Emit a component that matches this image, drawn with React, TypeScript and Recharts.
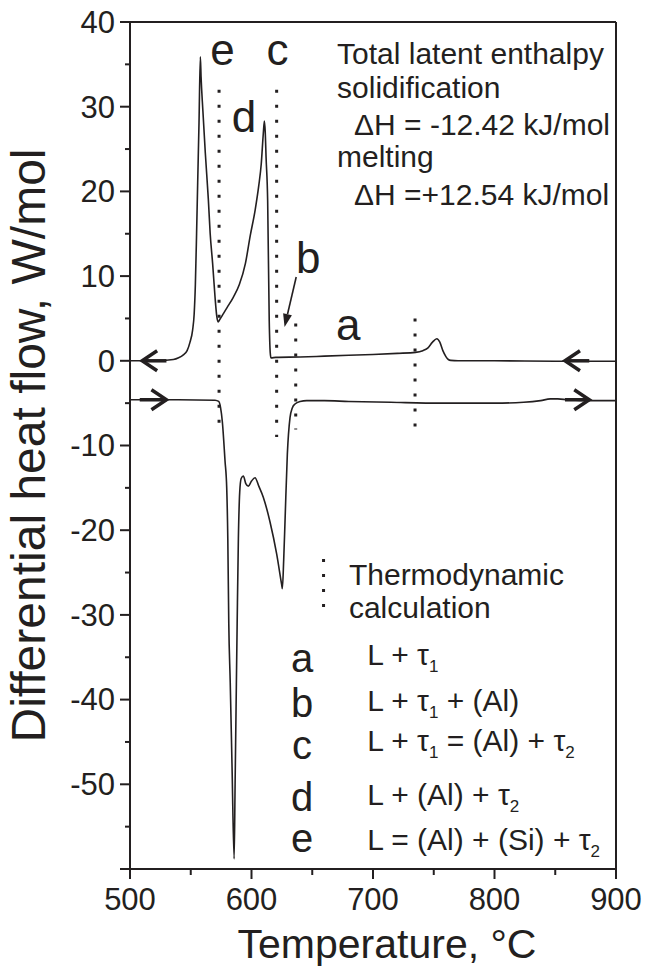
import React from "react";
import { LineChart, Line, XAxis, YAxis, ReferenceLine, ReferenceDot, Label } from "recharts";

const INK = "#231f20";
const FONT = "'Liberation Sans', Arial, Helvetica, sans-serif";

// Cooling run (solidification) — upper trace
const COOL_T = [500, 520, 535.7, 540, 543.9, 547, 549.4, 551.5, 552.8, 553.8, 554.8, 555.7, 556.8, 557.9, 558.5, 560, 562, 564.5, 566, 568, 570, 571.3, 572.5, 574, 577, 580, 585, 590, 595, 599, 603, 606, 608, 609.7, 610.6, 611.3, 612, 613.3, 614.6, 615.4, 616, 620, 640, 660, 680, 700, 720, 735, 741, 745, 749, 752.5, 755, 757.5, 760, 762, 764, 770, 800, 850, 900];
const COOL_V = [0, 0, 0.15, 0.35, 0.7, 1.2, 2.2, 3.6, 5.5, 9, 15, 21, 28.1, 35.9, 33.5, 29.5, 24.5, 19, 15, 11.5, 7.5, 5.4, 4.6, 4.9, 5.6, 6.3, 7.5, 9.0, 11.5, 14.8, 17.8, 20.7, 23.2, 26.8, 28.3, 27, 24, 18.9, 4.7, 1.0, 0.35, 0.4, 0.45, 0.55, 0.65, 0.75, 0.88, 1.0, 1.2, 1.5, 2.2, 2.6, 2.2, 1.2, 0.5, 0.15, 0.05, 0, 0, -0.05, -0.05];

// Heating run (melting) — lower trace
const HEAT_T = [500, 540, 570, 573, 574.5, 576, 578.2, 579.6, 580.5, 581.3, 582.5, 584, 585.7, 586.5, 587.3, 588.2, 589.2, 590.3, 591.5, 593.3, 595.3, 597.4, 600, 602.9, 606, 609.7, 615.2, 620.7, 624.8, 625.4, 626.5, 627.6, 629.5, 631.7, 633.5, 635.8, 640, 645.4, 660, 680, 714.5, 755.7, 800, 824, 838, 846, 852, 860, 880, 900];
const HEAT_V = [-4.6, -4.6, -4.65, -4.8, -5.5, -7.2, -11.8, -15, -21, -31, -38, -48, -58.8, -50, -41, -31, -21, -15.5, -13.9, -13.6, -14.5, -14.8, -14.2, -13.8, -14.8, -16.1, -19.0, -22.8, -26.4, -26.9, -23.5, -18.9, -11, -6.7, -5.6, -5.1, -4.8, -4.7, -4.7, -4.8, -4.9, -5.0, -5.0, -4.9, -4.7, -4.5, -4.5, -4.6, -4.7, -4.7];

const X_TICKS = [500, 550, 600, 650, 700, 750, 800, 850, 900];
const Y_TICKS = [-60, -55, -50, -45, -40, -35, -30, -25, -20, -15, -10, -5, 0, 5, 10, 15, 20, 25, 30, 35, 40];

// thermodynamic calculation markers (dotted verticals)
const CALC_T = [573.3, 620.7, 636.4, 734.6];
const CALC_TOP = [32, 32, 4.4, 5.0];
const CALC_BOTTOM = [-7.7, -9.0, -8.1, -7.8];

const PEAK_LETTERS = ["e", "c", "d", "b", "a"];
const PEAK_T = [576.1, 621.4, 593.9, 646.8, 679.7];
const PEAK_V = [34.9, 34.9, 27.0, 10.4, 2.5];

const PHASE_LETTERS = ["a", "b", "c", "d", "e"];
const PHASE_TEXT = ["L + τ_1", "L + τ_1 + (Al)", "L + τ_1 = (Al) + τ_2", "L + (Al) + τ_2", "L = (Al) + (Si) + τ_2"];
const LETTER_V = [-36.7, -42.0, -47.0, -53.1, -58.0];
const TEXT_V = [-35.9, -41.4, -46.1, -52.4, -57.7];

const ENTHALPY_LINES = ["Total latent enthalpy", "solidification", "ΔH = -12.42 kJ/mol", "melting", "ΔH =+12.54 kJ/mol"];
const ENTHALPY_T = [670.4, 670.4, 684.4, 670.4, 684.4];
const ENTHALPY_V = [35.1, 31.0, 26.7, 22.9, 18.4];

// direction arrows on the traces: shaft from -> to (tip), at level v
const ARROWS = [
  { from: 530, to: 510, v: 0 },
  { from: 508, to: 530, v: -4.6 },
  { from: 878, to: 858, v: 0 },
  { from: 858, to: 878, v: -4.6 },
];

const cool = COOL_T.map((t, i) => ({ t, v: COOL_V[i] }));
const heat = HEAT_T.map((t, i) => ({ t, v: HEAT_V[i] }));

function XTick(props: any) {
  const { x, y, payload } = props;
  const major = payload.value % 100 === 0;
  return (
    <g>
      <line x1={x} x2={x} y1={y} y2={y + (major ? 10 : 6)} stroke={INK} strokeWidth={2} />
      {major && (
        <text x={x} y={y + 41} textAnchor="middle" fontSize={31} fontFamily={FONT} fill={INK}>
          {payload.value}
        </text>
      )}
    </g>
  );
}

function YTick(props: any) {
  const { x, y, payload } = props;
  const v = payload.value;
  const major = v % 10 === 0;
  return (
    <g>
      <line x1={x} x2={x - (major ? 10 : 5)} y1={y} y2={y} stroke={INK} strokeWidth={2} />
      {major && v > -60 && (
        <text x={x - 15} y={y} dy="0.35em" textAnchor="end" fontSize={31} fontFamily={FONT} fill={INK}>
          {v}
        </text>
      )}
    </g>
  );
}

// "τ_1" -> τ with subscript 1
function rich(s: string) {
  const parts = s.split(/_(\d)/);
  return parts.map((p, i) =>
    i % 2 ? (
      <tspan key={i} fontSize={17} dy={7}>{p}</tspan>
    ) : (
      <tspan key={i} dy={i ? -7 : 0}>{p}</tspan>
    )
  );
}

const textShape = (content: React.ReactNode, size: number, anchor: string) => (p: any) => (
  <text x={p.cx} y={p.cy} fontSize={size} fontFamily={FONT} fill={INK} textAnchor={anchor}>
    {content}
  </text>
);

const chevron = (p: any) => {
  const { x1, y1, x2, y2 } = p;
  const dir = x2 > x1 ? 1 : -1;
  return (
    <g>
      <line x1={x1} y1={y1} x2={x2} y2={y2} stroke={INK} strokeWidth={3.5} />
      <polyline
        points={`${x2 - dir * 15},${y2 - 10} ${x2},${y2} ${x2 - dir * 15},${y2 + 10}`}
        fill="none" stroke={INK} strokeWidth={3.5} strokeLinejoin="miter"
      />
    </g>
  );
};

const pointer = (p: any) => {
  const { x1, y1, x2, y2 } = p;
  const len = Math.hypot(x2 - x1, y2 - y1);
  const ux = (x2 - x1) / len, uy = (y2 - y1) / len;
  const bx = x2 - ux * 13, by = y2 - uy * 13;
  return (
    <g>
      <line x1={x1} y1={y1} x2={bx} y2={by} stroke={INK} strokeWidth={1.6} />
      <polygon
        points={`${x2},${y2} ${bx - uy * 4.5},${by + ux * 4.5} ${bx + uy * 4.5},${by - ux * 4.5}`}
        fill={INK}
      />
    </g>
  );
};

export default function App() {
  return (
    <div style={{ position: "absolute", left: 0, top: 0, width: 648, height: 969, background: "#fff" }}>
      <LineChart width={648} height={969} margin={{ top: 22, right: 32, bottom: 0, left: 0 }}>
        <XAxis
          type="number" dataKey="t" domain={[500, 900]} ticks={X_TICKS} interval={0}
          tickSize={0} tickMargin={0} tickLine={false} tick={(p: any) => <XTick {...p} />}
          axisLine={{ stroke: INK, strokeWidth: 2 }} height={100} allowDataOverflow
        >
          <Label
            value="Temperature, °C" position="insideBottom" offset={11} dx={14}
            style={{ fontSize: 41, fontFamily: FONT, fill: INK }}
          />
        </XAxis>
        <YAxis
          type="number" domain={[-60, 40]} ticks={Y_TICKS} interval={0}
          tickSize={0} tickMargin={0} tickLine={false} tick={(p: any) => <YTick {...p} />}
          axisLine={{ stroke: INK, strokeWidth: 2 }} width={130} allowDataOverflow
        >
          <Label
            value="Differential heat flow, W/mol" angle={-90} position="insideLeft" offset={28}
            style={{ fontSize: 48, fontFamily: FONT, fill: INK, textAnchor: "middle" }}
          />
        </YAxis>

        {/* frame top/right */}
        <ReferenceLine y={40} stroke={INK} strokeWidth={2} />
        <ReferenceLine x={900} stroke={INK} strokeWidth={2} />

        {CALC_T.map((t, i) => (
          <ReferenceLine
            key={"calc" + i}
            segment={[{ x: t, y: CALC_TOP[i] }, { x: t, y: CALC_BOTTOM[i] }]}
            stroke={INK} strokeWidth={3} strokeDasharray="3 12"
          />
        ))}
        {/* legend marker for "Thermodynamic calculation" */}
        <ReferenceLine
          segment={[{ x: 659.3, y: -23.4 }, { x: 659.3, y: -29.6 }]}
          stroke={INK} strokeWidth={3} strokeDasharray="3 12"
        />

        <Line data={cool} dataKey="v" type="monotone" stroke={INK} strokeWidth={1.6} dot={false} isAnimationActive={false} />
        <Line data={heat} dataKey="v" type="monotone" stroke={INK} strokeWidth={1.6} dot={false} isAnimationActive={false} />

        {ARROWS.map((a, i) => (
          <ReferenceLine
            key={"arr" + i}
            segment={[{ x: a.from, y: a.v }, { x: a.to, y: a.v }]}
            shape={chevron}
          />
        ))}
        <ReferenceLine segment={[{ x: 636.8, y: 9.9 }, { x: 627.2, y: 4.0 }]} shape={pointer} />

        {PEAK_LETTERS.map((s, i) => (
          <ReferenceDot key={"pk" + i} x={PEAK_T[i]} y={PEAK_V[i]} r={0} shape={textShape(s, 44, "middle")} />
        ))}
        {ENTHALPY_LINES.map((s, i) => (
          <ReferenceDot key={"en" + i} x={ENTHALPY_T[i]} y={ENTHALPY_V[i]} r={0} shape={textShape(s, 30, "start")} />
        ))}
        <ReferenceDot x={680.2} y={-26.5} r={0} shape={textShape("Thermodynamic", 30, "start")} />
        <ReferenceDot x={680.2} y={-30.4} r={0} shape={textShape("calculation", 30, "start")} />
        {PHASE_LETTERS.map((s, i) => (
          <ReferenceDot key={"pl" + i} x={641.6} y={LETTER_V[i]} r={0} shape={textShape(s, 40, "middle")} />
        ))}
        {PHASE_TEXT.map((s, i) => (
          <ReferenceDot key={"pt" + i} x={695.3} y={TEXT_V[i]} r={0} shape={textShape(rich(s), 30, "start")} />
        ))}
      </LineChart>
    </div>
  );
}
